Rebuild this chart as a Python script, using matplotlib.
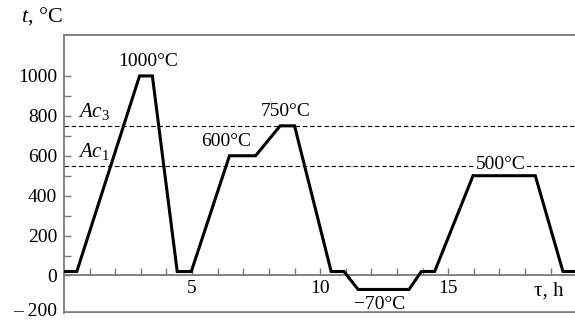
import matplotlib
matplotlib.use('Agg')
import matplotlib.pyplot as plt

# heat treatment schedule, time (h) vs temperature (C)
tau = [0, 0.5, 2.95, 3.45, 4.42, 4.97, 6.46, 7.48, 8.44, 9.0,
       10.43, 10.93, 11.48, 13.47, 13.95, 14.47, 15.97, 18.4, 19.48, 20]
temp = [20, 20, 1000, 1000, 20, 20, 600, 600, 750, 750,
        20, 20, -70, -70, 20, 20, 500, 500, 20, 20]

ac3 = 750
ac1 = 550

y_major = [0, 200, 400, 600, 800, 1000]
y_minor = [100, 300, 500, 700, 900]
x_ticks = list(range(1, 20))
x_labels = {5: '5', 10: '10', 15: '15'}

plt.rcParams['font.family'] = 'Liberation Serif'
plt.rcParams['mathtext.fontset'] = 'custom'
plt.rcParams['mathtext.rm'] = 'Liberation Serif'
plt.rcParams['mathtext.it'] = 'Liberation Serif:italic'
plt.rcParams['font.size'] = 14

gray = '#7a7a7a'

fig = plt.figure(figsize=(5.75, 3.21), dpi=100)
ax = fig.add_axes([0.1113, 0.0249, 0.8887, 0.866])

ax.plot(tau, temp, color='black', lw=2.2, solid_joinstyle='miter', zorder=3)
ax.axhline(ac3, color='black', lw=0.8, ls=(0, (4, 2.5)), zorder=1)
ax.axhline(ac1, color='black', lw=0.8, ls=(0, (4, 2.5)), zorder=1)

ax.set_xlim(0, 19.95)
ax.set_ylim(-188, 1205)

# frame
ax.spines['right'].set_visible(False)
for s in ['left', 'top', 'bottom']:
    ax.spines[s].set_color(gray)
    ax.spines[s].set_linewidth(1.3)
ax.spines['bottom'].set_position(('data', 0))
ax.axhline(-188, color=gray, lw=2.6, clip_on=True)

ax.set_yticks(y_major)
ax.set_yticks(y_minor, minor=True)
ax.tick_params(axis='y', which='both', direction='in', length=5, width=1,
               color=gray, pad=5)
ax.set_xticks(x_ticks)
ax.set_xticklabels([x_labels.get(t, '') for t in x_ticks])
ax.tick_params(axis='x', direction='in', length=5, width=1, color=gray, pad=3)

ax.annotate('\u2013 200', xy=(0, -182), xycoords=('axes fraction', 'data'),
            xytext=(-5, 0), textcoords='offset points', ha='right', va='center')

# annotations
ax.text(3.28, 1070, '1000°C', ha='center', va='center')
ax.text(6.33, 670, '600°C', ha='center', va='center')
ax.text(8.67, 820, '750°C', ha='center', va='center')
ax.text(17.07, 557, '500°C', ha='center', va='center',
        bbox=dict(facecolor='white', edgecolor='none', pad=0.5))
ax.text(12.34, -145, '\u221270°C', ha='center', va='center')
ax.text(0.53, 820, '$Ac_3$', ha='left', va='center', fontsize=15)
ax.text(0.53, 620, '$Ac_1$', ha='left', va='center', fontsize=15)
ax.text(19.5, -80, 'τ, h', ha='right', va='center', fontsize=15)
fig.text(21 / 575, 1 - 16 / 321, '$t$, °C', ha='left', va='center', fontsize=16)

fig.savefig('out.png', dpi=100)
